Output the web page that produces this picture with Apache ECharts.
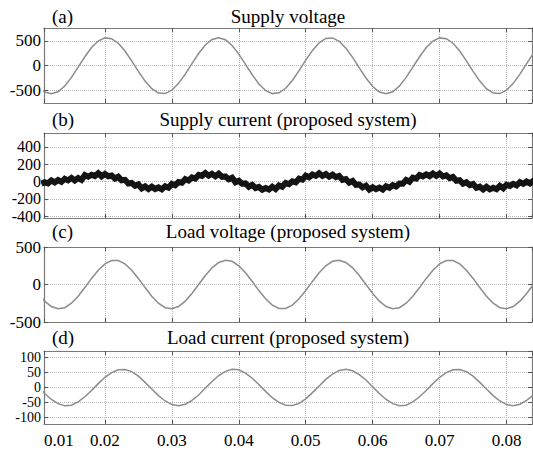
<!DOCTYPE html>
<html><head><meta charset="utf-8">
<script src="https://cdn.jsdelivr.net/npm/echarts@6/dist/echarts.min.js"></script>
<style>html,body{margin:0;padding:0;background:#fff}#c{width:533px;height:454px}</style>
</head><body><div id="c"></div>
<script>
const panelTitles = ['Supply voltage', 'Supply current (proposed system)', 'Load voltage (proposed system)', 'Load current (proposed system)'];
const panelLetters = ['(a)', '(b)', '(c)', '(d)'];
const xTickLabels = ['0.01', '0.02', '0.03', '0.04', '0.05', '0.06', '0.07', '0.08'];
const xRange = [0.0109, 0.0838];
const yRanges = [[-750, 760], [-420, 560], [-500, 500], [-122, 122]];

const time = [0.010,0.011,0.012,0.013,0.014,0.015,0.016,0.017,0.018,0.019,
0.020,0.021,0.022,0.023,0.024,0.025,0.026,0.027,0.028,0.029,
0.030,0.031,0.032,0.033,0.034,0.035,0.036,0.037,0.038,0.039,
0.040,0.041,0.042,0.043,0.044,0.045,0.046,0.047,0.048,0.049,
0.050,0.051,0.052,0.053,0.054,0.055,0.056,0.057,0.058,0.059,
0.060,0.061,0.062,0.063,0.064,0.065,0.066,0.067,0.068,0.069,
0.070,0.071,0.072,0.073,0.074,0.075,0.076,0.077,0.078,0.079,
0.080,0.081,0.082,0.083,0.084,0.085];

const timeFine = [0.0105,
0.0110,0.0115,0.0120,0.0125,0.0130,0.0135,0.0140,0.0145,0.0150,0.0155,0.0160,0.0165,0.0170,0.0175,0.0180,0.0185,0.0190,0.0195,0.0200,0.0205,
0.0210,0.0215,0.0220,0.0225,0.0230,0.0235,0.0240,0.0245,0.0250,0.0255,0.0260,0.0265,0.0270,0.0275,0.0280,0.0285,0.0290,0.0295,0.0300,0.0305,
0.0310,0.0315,0.0320,0.0325,0.0330,0.0335,0.0340,0.0345,0.0350,0.0355,0.0360,0.0365,0.0370,0.0375,0.0380,0.0385,0.0390,0.0395,0.0400,0.0405,
0.0410,0.0415,0.0420,0.0425,0.0430,0.0435,0.0440,0.0445,0.0450,0.0455,0.0460,0.0465,0.0470,0.0475,0.0480,0.0485,0.0490,0.0495,0.0500,0.0505,
0.0510,0.0515,0.0520,0.0525,0.0530,0.0535,0.0540,0.0545,0.0550,0.0555,0.0560,0.0565,0.0570,0.0575,0.0580,0.0585,0.0590,0.0595,0.0600,0.0605,
0.0610,0.0615,0.0620,0.0625,0.0630,0.0635,0.0640,0.0645,0.0650,0.0655,0.0660,0.0665,0.0670,0.0675,0.0680,0.0685,0.0690,0.0695,0.0700,0.0705,
0.0710,0.0715,0.0720,0.0725,0.0730,0.0735,0.0740,0.0745,0.0750,0.0755,0.0760,0.0765,0.0770,0.0775,0.0780,0.0785,0.0790,0.0795,0.0800,0.0805,
0.0810,0.0815,0.0820,0.0825,0.0830,0.0835,0.0840,0.0845,0.0850];

const supplyVoltage = [-417,
-528,-565,-523,-407,-234,-28,181,366,498,561,545,453,297,99,-113,-309,-461,-549,-560,-492,-355,-168,43,247,417,
528,565,523,407,234,28,-181,-366,-498,-561,-545,-453,-297,-99,113,309,461,549,560,492,355,168,-43,-247,-417,
-528,-565,-523,-407,-234,-28,181,366,498,561,545,453,297,99,-113,-309,-461,-549,-560,-492,-355,-168,43,247,417];

const supplyCurrent = [-25,
-8,-20,14,-9,18,-4,32,14,42,13,40,19,74,56,79,64,96,59,87,61,
70,35,55,15,20,-23,-16,-48,-33,-78,-55,-85,-59,-86,-68,-90,-54,-71,-27,-42,
-6,-13,28,13,48,35,77,65,97,68,90,61,90,54,59,27,44,-7,10,-25,
-21,-59,-38,-74,-61,-94,-74,-91,-59,-87,-46,-59,-17,-29,2,-9,34,22,67,50,
81,65,95,66,86,56,80,51,65,20,28,-13,6,-37,-34,-67,-47,-91,-65,-88,
-70,-91,-54,-72,-41,-57,-22,-25,18,-1,45,35,76,60,83,62,92,65,93,59,
72,39,53,9,16,-25,-8,-42,-29,-72,-59,-91,-61,-90,-72,-88,-50,-77,-36,-50,
-26,-44,-6,-26,0,-22,8,-2,34];

const loadVoltage = [-120,
-222,-294,-324,-309,-250,-157,-41,81,191,274,319,319,274,191,81,-41,-157,-250,-309,-324,-294,-222,-120,0,120,
222,294,324,309,250,157,41,-81,-191,-274,-319,-319,-274,-191,-81,41,157,250,309,324,294,222,120,0,-120,
-222,-294,-324,-309,-250,-157,-41,81,191,274,319,319,274,191,81,-41,-157,-250,-309,-324,-294,-222,-120,0,120];

const loadCurrent = [2,
-20,-40,-54,-61,-59,-48,-31,-10,13,34,50,59,60,53,38,17,-5,-27,-45,-57,-61,-56,-43,-25,-2,
20,40,54,61,59,48,31,10,-13,-34,-50,-59,-60,-53,-38,-17,5,27,45,57,61,56,43,25,2,
-20,-40,-54,-61,-59,-48,-31,-10,13,34,50,59,60,53,38,17,-5,-27,-45,-57,-61,-56,-43,-25,-2];

const zip = (xs, ys) => xs.map((x, i) => [x, ys[i]]);

const FONT = 'Liberation Serif';
const frameColor = '#7a7a7a';
const grids = [
  {left: 44, right: 1, top: 28, height: 75},
  {left: 44, right: 1, top: 133, height: 85},
  {left: 44, right: 1, top: 247, height: 75},
  {left: 44, right: 1, top: 351, height: 73}
];
const ySplitNumber = [3, 5, null, 5];
const yLabelSize = [17, 16, 17, 14];

const xAxes = [], yAxes = [];
grids.forEach((g, i) => {
  ['bottom', 'top'].forEach(pos => {
    xAxes.push({
      type: 'value', gridIndex: i, position: pos,
      min: xRange[0], max: xRange[1], splitNumber: 7,
      axisLine: {show: true, onZero: false, lineStyle: {color: frameColor, width: 1.2}},
      axisTick: {show: true, inside: true, length: 4, lineStyle: {color: '#555'}},
      axisLabel: {
        show: pos === 'bottom' && i === 3,
        showMinLabel: true, showMaxLabel: false, alignMinLabel: 'left',
        margin: 8, color: '#000', fontFamily: FONT, fontSize: 17,
        formatter: v => v < 0.015 ? xTickLabels[0] : xTickLabels[Math.round((v - 0.01) / 0.01)]
      },
      splitLine: {show: pos === 'bottom', lineStyle: {type: 'dotted', color: '#b8b8b8', width: 1}}
    });
  });
  ['left', 'right'].forEach(pos => {
    const ax = {
      type: 'value', gridIndex: i, position: pos,
      min: yRanges[i][0], max: yRanges[i][1],
      axisLine: {show: true, onZero: false, lineStyle: {color: frameColor, width: 1.2}},
      axisTick: {show: true, inside: true, length: 4, lineStyle: {color: '#555'}},
      axisLabel: {
        show: pos === 'left', margin: 3, color: '#000', fontFamily: FONT,
        fontSize: yLabelSize[i], lineHeight: yLabelSize[i] - 1,
        showMinLabel: i === 2, showMaxLabel: i === 2
      },
      splitLine: {show: pos === 'left', lineStyle: {type: 'dotted', color: '#b8b8b8', width: 1}}
    };
    if (ySplitNumber[i] === null) ax.interval = 500; else ax.splitNumber = ySplitNumber[i];
    yAxes.push(ax);
  });
});

const titleTops = [7, 110, 222, 328];
const titles = [];
panelTitles.forEach((t, i) => {
  titles.push({text: t, left: 288, top: titleTops[i], textAlign: 'center', padding: 0,
    textStyle: {fontFamily: FONT, fontSize: 19, fontWeight: 'normal', color: '#000'}});
  titles.push({text: panelLetters[i], left: 52, top: titleTops[i], padding: 0,
    textStyle: {fontFamily: FONT, fontSize: 19, fontWeight: 'normal', color: '#000'}});
});

const lineSeries = (idx, data, color, width) => ({
  type: 'line', xAxisIndex: idx * 2, yAxisIndex: idx * 2, data,
  showSymbol: false, symbol: 'none', clip: true,
  lineStyle: {color, width, cap: 'butt', join: 'miter'}, silent: true
});

const option = {
  animation: false,
  backgroundColor: '#fff',
  title: titles,
  grid: grids,
  xAxis: xAxes,
  yAxis: yAxes,
  series: [
    lineSeries(0, zip(time, supplyVoltage), '#8c8c8c', 1.5),
    lineSeries(1, zip(timeFine, supplyCurrent), '#141414', 6),
    lineSeries(2, zip(time, loadVoltage), '#8c8c8c', 1.5),
    lineSeries(3, zip(time, loadCurrent), '#8c8c8c', 1.5)
  ]
};

const chart = echarts.init(document.getElementById('c'), null, {renderer: 'svg', width: 533, height: 454});
chart.setOption(option);
</script>
</body></html>
